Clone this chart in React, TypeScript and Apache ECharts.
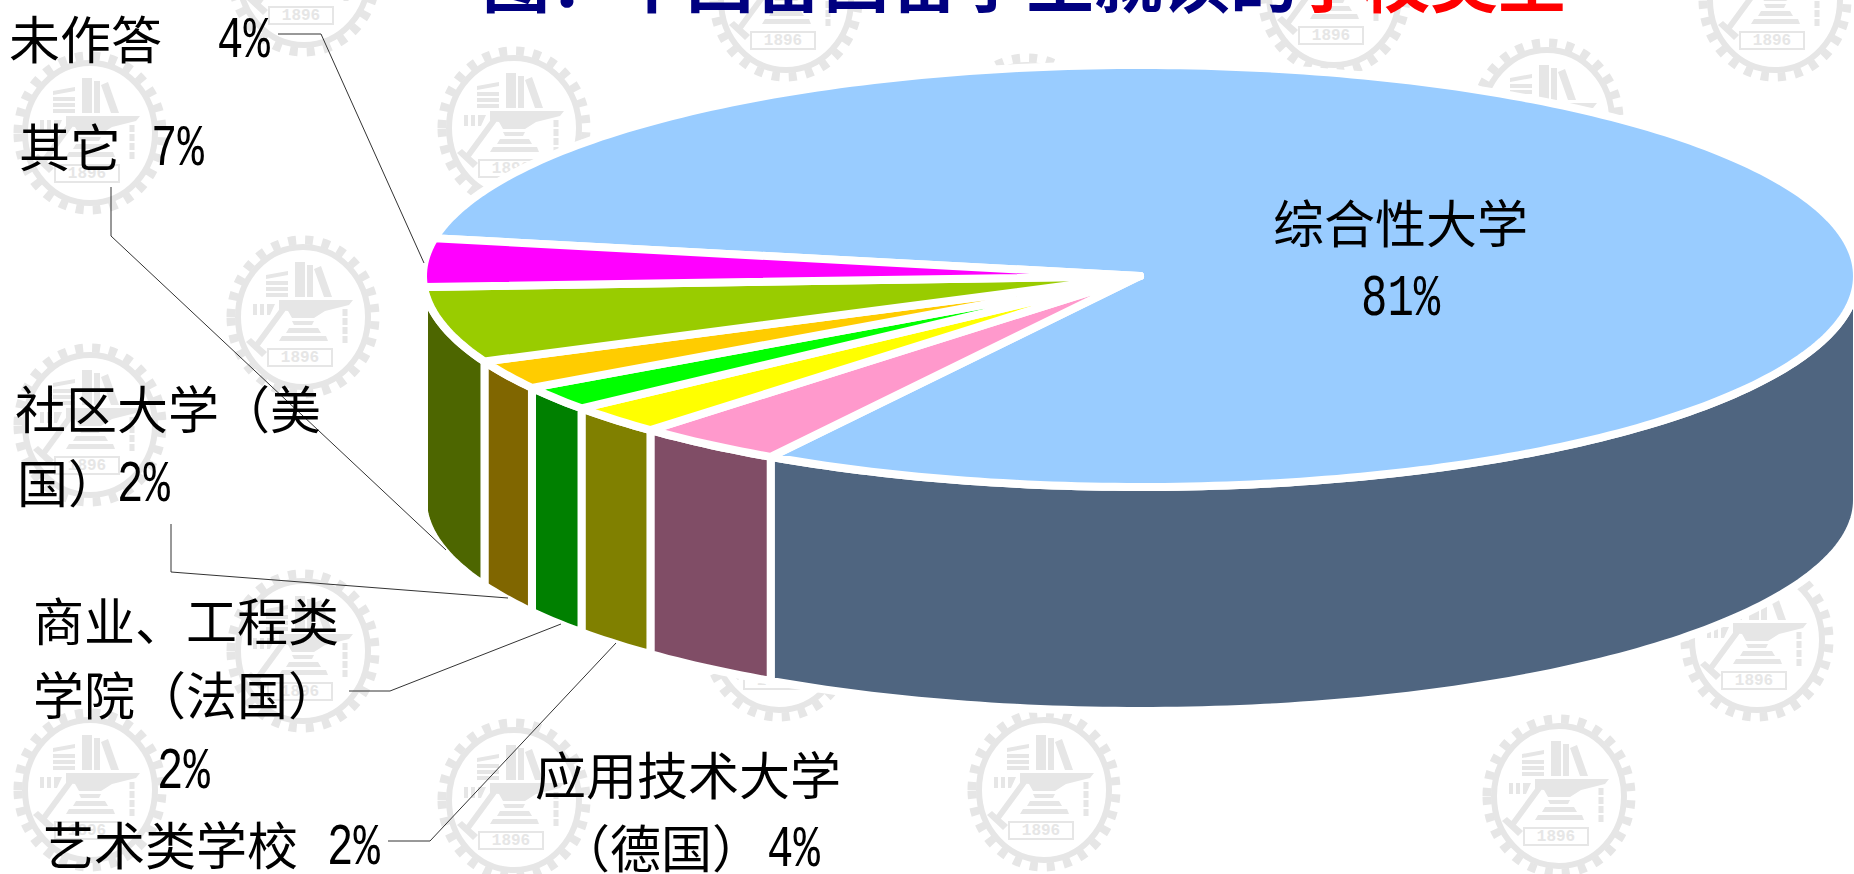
import React, { useEffect, useRef } from "react";
import * as echarts from "echarts";

// ---------- data ----------
const categories = ["综合性大学", "应用技术大学（德国）", "艺术类学校", "商业、工程类学院（法国）", "社区大学（美国）", "其它", "未作答"];
// printed percentages
const percentLabels = [81, 4, 2, 2, 2, 7, 4];
// slice sizes as drawn (% of the circle)
const sliceShares = [80.75, 3.35, 2.25, 1.9, 2.25, 5.8, 3.7];
const topColors = ["#99CCFF", "#FF99CC", "#FFFF00", "#00FF00", "#FFCC00", "#99CC00", "#FF00FF"];
const wallColors = ["#4F6580", "#804D66", "#808000", "#008000", "#806600", "#4D6600", "#800080"];
const titleNavy = "图：中国留西留学生就读的";
const titleRed = "学校类型";
const emblemYear = "1896";

// ---------- layout ----------
const W = 1854, H = 874;
const CX = 1140, CY = 276, RX = 717, RY = 211, DEPTH = 224, GAP = 8;
const START_DEG = 190.3;
const CJK = '"Noto Sans CJK SC"';
const LATIN = '"Liberation Mono"';

const pt = (deg: number, dy = 0): number[] => {
  const r = (deg * Math.PI) / 180;
  return [CX + RX * Math.cos(r), CY + dy + RY * Math.sin(r)];
};
const arc = (a: number, b: number, dy = 0): number[][] => {
  const out: number[][] = [];
  const n = Math.max(2, Math.ceil(Math.abs(b - a)));
  for (let i = 0; i <= n; i++) out.push(pt(a + ((b - a) * i) / n, dy));
  return out;
};
const sliceRange = (i: number): number[] => {
  const total = sliceShares.reduce((s, v) => s + v, 0);
  let acc = 0;
  for (let k = 0; k < i; k++) acc += sliceShares[k];
  const a = START_DEG + (acc / total) * 360;
  return [a, a + (sliceShares[i] / total) * 360];
};

const renderTop = (params: any) => {
  const i = params.dataIndex;
  const [a, b] = sliceRange(i);
  return {
    type: "polygon",
    shape: { points: [[CX, CY], ...arc(a, b)] },
    style: { fill: topColors[i], stroke: "#fff", lineWidth: GAP, lineJoin: "round" },
  };
};

const renderWall = (params: any) => {
  const i = params.dataIndex;
  const [a, b] = sliceRange(i);
  const children: any[] = [];
  [[0, 180], [360, 540]].forEach(([lo, hi]) => {
    const s = Math.max(a, lo), e = Math.min(b, hi);
    if (e > s) {
      children.push({
        type: "polygon",
        shape: { points: [...arc(s, e), ...arc(e, s, DEPTH)] },
        style: { fill: wallColors[i], stroke: "#fff", lineWidth: GAP, lineJoin: "miter" },
      });
    }
  });
  return { type: "group", children };
};

// ---------- watermark ----------
const emblemPath =
  "M-37 -42L-15 -46L-15 -42L-37 -38Z M-37 -36L-15 -36L-15 -32L-37 -32Z M-37 -30L-15 -30L-15 -26L-37 -26Z M-37 -24L-15 -24L-15 -20L-37 -20Z " +
  "M-8 -55L2 -55L2 -20L-8 -20Z M4 -52L10 -52L10 -20L4 -20Z M11 -48L18 -51L29 -20L21 -20Z " +
  "M-24 -17L50 -17L46 -12L22 -6L11 1L-11 1L-15 -6L-24 -7Z " +
  "M-50 -13L-46 -13L-46 -2L-50 -2Z M-43 -13L-39 -13L-39 -2L-43 -2Z M-36 -13L-28 -13L-33 -2L-36 -2Z " +
  "M-11 4L11 4L9 8L-9 8Z M-14 11L15 11L18 16L-17 16Z M-21 19L23 19L25 24L-24 24Z " +
  "M-19 -14L-14 -11L-44 30L-49 27Z M-57 25L-52 21L-36 35L-41 40Z";
echarts.graphic.registerShape("emblemBody", echarts.graphic.extendPath(emblemPath, {}));

const emblemCenters = [
  [514, 128], [304, -25], [786, 0], [90, 133], [303, 317], [90, 425], [303, 651], [90, 790], [514, 800],
  [779, 640], [1334, -5], [1775, 0], [1547, 120], [1027, 135], [1757, 640], [1044, 790], [1559, 796],
];
const GREY = "#E6E6E6";
const emblem = ([x, y]: number[]) => ({
  type: "group",
  x,
  y,
  silent: true,
  children: [
    { type: "ellipse", shape: { cx: 0, cy: 0, rx: 72, ry: 77 }, style: { fill: "none", stroke: GREY, lineWidth: 9, lineDash: [8, 9] } },
    { type: "ellipse", shape: { cx: 0, cy: 0, rx: 65, ry: 70 }, style: { fill: "none", stroke: GREY, lineWidth: 6 } },
    { type: "emblemBody", style: { fill: GREY } },
    { type: "line", shape: { x1: 42, y1: -8, x2: 42, y2: 28 }, style: { stroke: GREY, lineWidth: 5, lineDash: [7, 2] } },
    { type: "rect", shape: { x: -35, y: 32, width: 64, height: 17 }, style: { fill: "none", stroke: GREY, lineWidth: 2 } },
    {
      type: "text",
      x: -3,
      y: 41,
      style: { text: emblemYear, font: `bold 16px "Liberation Mono"`, fill: GREY, align: "center", verticalAlign: "middle", textAlign: "center", textVerticalAlign: "middle" },
    },
  ],
});

// ---------- texts ----------
const cjk = (text: string, x: number, y: number, fill = "#000", size = 51, weight = "normal") => ({
  type: "text",
  z: 10,
  x,
  y: y - 1,
  style: { text, font: `${weight} ${size}px ${CJK}`, fill, align: "left", verticalAlign: "middle", textAlign: "left", textVerticalAlign: "middle" },
});
const pct = (i: number, x: number, y: number) => ({
  type: "text",
  z: 10,
  x,
  y: y + 4,
  scaleY: 1.34,
  style: { text: `${percentLabels[i]}%`, font: `44px ${LATIN}`, fill: "#000", align: "left", verticalAlign: "middle", textAlign: "left", textVerticalAlign: "middle" },
});

const textEls = [
  cjk(titleNavy, 482, -22, "#000080", 68, "bold"),
  cjk(titleRed, 1294, -22, "#FF0000", 68, "bold"),
  cjk("未作答", 9, 38), pct(6, 217, 38),
  cjk("其它", 19, 146), pct(5, 151, 146),
  cjk("社区大学（美", 15, 408),
  cjk("国）", 17, 482), pct(4, 117, 482),
  cjk("商业、工程类", 33, 620),
  cjk("学院（法国）", 33, 694),
  pct(3, 157, 769),
  cjk("艺术类学校", 43, 844), pct(2, 327, 845),
  cjk("应用技术大学", 535, 774),
  cjk("（德国）", 559, 847), pct(1, 767, 847),
  cjk("综合性大学", 1273, 222),
  pct(0, 1361, 296),
];

const leaderPaths = [
  [[278, 34], [321, 34], [424, 263]],
  [[111, 187], [111, 236], [446, 550]],
  [[171, 524], [171, 572], [508, 598]],
  [[349, 691], [390, 691], [561, 624]],
  [[388, 841], [430, 841], [616, 643]],
];
const leaderEls = leaderPaths.map((points) => ({
  type: "polyline",
  z: 9,
  shape: { points },
  style: { fill: "none", stroke: "#333", lineWidth: 1 },
}));

export default function App() {
  const ref = useRef<HTMLDivElement>(null);
  useEffect(() => {
    document.body.style.margin = "0";
    const chart = echarts.init(ref.current!, null, { renderer: "svg" });
    const data = categories.map((name, i) => ({ name, value: [sliceShares[i], percentLabels[i]] }));
    chart.setOption({
      animation: false,
      backgroundColor: "#fff",
      graphic: {
        elements: [...emblemCenters.map(emblem), ...leaderEls, ...textEls],
      },
      series: [
        { type: "custom", name: "side", coordinateSystem: "none", z: 2, silent: true, clip: false, data, renderItem: renderWall },
        { type: "custom", name: "top", coordinateSystem: "none", z: 3, silent: true, clip: false, data, renderItem: renderTop },
      ],
    });
    return () => chart.dispose();
  }, []);
  return <div ref={ref} style={{ position: "absolute", left: 0, top: 0, width: W, height: H }} />;
}
